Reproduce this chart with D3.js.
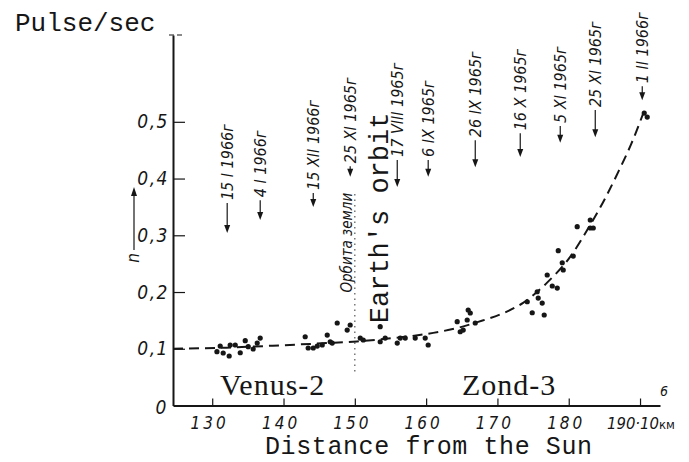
<!DOCTYPE html>
<html><head><meta charset="utf-8">
<script src="https://cdn.jsdelivr.net/npm/d3@7"></script>
<style>
body{margin:0;background:#fff;}
svg{display:block;}
</style></head><body>
<svg id="c" width="689" height="462"></svg>
<script>
// ---------- data ----------
const xTicks = [130, 140, 150, 160, 170, 180, 190];
const yTicks = [0.1, 0.2, 0.3, 0.4, 0.5];

const pointsX = [130.66,131.12,131.54,132.38,132.52,133.23,133.93,134.63,135.05,135.75,136.31,136.73,
  143.04,143.46,144.17,144.73,145.43,146.13,146.55,146.83,147.53,
  148.93,149.35,150.76,151.18,153.56,153.56,154.26,155.95,156.37,157.07,158.47,159.87,160.29,
  164.36,164.78,165.20,165.76,165.90,166.19,166.89,
  174.18,174.88,176.56,175.58,176.28,175.72,176.98,177.69,178.39,179.09,179.23,178.53,180.63,
  181.19,183.02,183.02,183.44,190.59,191.01];
const pointsY = [0.0948,0.1048,0.0925,0.0872,0.1066,0.1066,0.0930,0.1142,0.1036,0.0996,0.1101,0.1189,
  0.1212,0.1013,0.1013,0.1048,0.1066,0.1242,0.1124,0.1101,0.1454,
  0.1330,0.1419,0.1189,0.1154,0.1389,0.1124,0.1189,0.1101,0.1189,0.1189,0.1189,0.1189,0.1066,
  0.1477,0.1300,0.1330,0.1507,0.1683,0.1630,0.1454,
  0.1829,0.1635,0.1595,0.2005,0.1806,0.1894,0.2300,0.2106,0.2070,0.2516,0.2388,0.2728,0.2634,
  0.3151,0.3269,0.3128,0.3128,0.5154,0.5084];

const curveX = [124.5,132,139.5,146,150.3,155.5,161,164.5,167.2,171.4,173.6,177,180.2,183,185.1,187,188.8,190.6];
const curveY = [0.100,0.102,0.106,0.110,0.113,0.119,0.128,0.137,0.147,0.166,0.181,0.217,0.262,0.318,0.365,0.413,0.462,0.52];

const annotLabels = ["15 I 1966г","4 I 1966г","15 XII 1966г","25 XI 1965г","17 VIII 1965г","6 IX 1965г",
  "26 IX 1965г","16 X 1965г","5 XI 1965г","25 XI 1965г","1 II 1966г"];
const annotX    = [132.10,136.73,144.17,149.35,155.95,160.29,166.89,173.20,178.81,183.72,190.31];
const annotTip  = [0.304,0.327,0.350,0.403,0.385,0.403,0.420,0.438,0.463,0.473,0.538];
const annotBase = [0.362,0.367,0.380,0.427,0.438,0.438,0.473,0.485,0.498,0.526,0.568];

const orbitX = 150;
const orbitRange = [0.06, 0.38];

// ---------- drawing ----------
const svg = d3.select("#c");
const ink = "#161616";
const narrow = "'Liberation Sans Narrow','DejaVu Sans Condensed','Liberation Sans',sans-serif";
const mono = "'Liberation Mono','DejaVu Sans Mono',monospace";
const serif = "'Liberation Serif','DejaVu Serif',serif";

const x = d3.scaleLinear().domain([124.5, 192.8]).range([173, 660]);
const y = d3.scaleLinear().domain([0, 0.653]).range([405.5, 35]);

// axes
const lastVal = xTicks[xTicks.length - 1];
const xAxis = d3.axisBottom(x).tickValues(xTicks).tickSizeInner(-7).tickSizeOuter(0).tickPadding(11)
  .tickFormat(d => d === lastVal ? "" : d);
const gx = svg.append("g").attr("transform", `translate(0,${y(0)})`).call(xAxis);
gx.select(".domain").attr("stroke", ink).attr("stroke-width", 2);
gx.selectAll(".tick line").attr("stroke", ink).attr("stroke-width", 1.2);
gx.selectAll(".tick text").attr("fill", ink).attr("font-family", narrow).attr("font-style", "italic")
  .attr("font-size", 17).attr("letter-spacing", 3).attr("dx", -3);

// last tick label carries the unit: 190·10⁶ км
const lastX = x(lastVal) - 33;
const lastY = y(0) + 23;
const lastLab = svg.append("text").attr("x", lastX).attr("y", lastY).attr("text-anchor", "start")
  .attr("font-family", narrow).attr("font-style", "italic").attr("font-size", 16.5).attr("fill", ink)
  .text(lastVal + "·10");
const lastEnd = lastX + lastLab.node().getBBox().width;
svg.append("text").attr("x", lastEnd + 1).attr("y", y(0) - 10)
  .attr("font-family", narrow).attr("font-style", "italic").attr("font-size", 14).attr("fill", ink).text("6");
svg.append("text").attr("x", lastEnd).attr("y", lastY)
  .attr("font-family", narrow).attr("font-size", 13).attr("fill", ink).text("км");

const yAxis = d3.axisLeft(y).tickValues(yTicks).tickSizeInner(-12).tickSizeOuter(0).tickPadding(4)
  .tickFormat(d => d3.format(".1f")(d).replace(".", ","));
const gy = svg.append("g").attr("transform", `translate(${x(124.5)},0)`).call(yAxis);
gy.select(".domain").attr("stroke", ink).attr("stroke-width", 2);
gy.selectAll(".tick line").attr("stroke", ink).attr("stroke-width", 1.2);
gy.selectAll(".tick text").attr("fill", ink).attr("font-family", narrow).attr("font-style", "italic")
  .attr("font-size", 19).attr("letter-spacing", 1.5);

// top dash of y axis
svg.append("line").attr("x1", x(124.5) - 4).attr("x2", x(124.5) + 12)
  .attr("y1", y(0.653)).attr("y2", y(0.653)).attr("stroke", ink).attr("stroke-width", 1.2)
  .attr("stroke-dasharray", "5,3");

// "0" label
svg.append("text").attr("x", x(124.5) - 12).attr("y", y(0) + 8).attr("text-anchor", "middle")
  .attr("font-family", narrow).attr("font-style", "italic").attr("font-size", 19).attr("fill", ink).text("0");

// Earth's orbit dotted line
svg.append("line").attr("x1", x(orbitX)).attr("x2", x(orbitX))
  .attr("y1", y(orbitRange[0])).attr("y2", y(orbitRange[1]))
  .attr("stroke", "#555").attr("stroke-width", 1.2).attr("stroke-dasharray", "1.5,4");

// fitted dashed curve
const line = d3.line().x((d, i) => x(curveX[i])).y((d, i) => y(curveY[i])).curve(d3.curveMonotoneX);
svg.append("path").datum(curveX).attr("d", line).attr("fill", "none").attr("stroke", ink)
  .attr("stroke-width", 2).attr("stroke-dasharray", "10,6");

// points
svg.append("g").selectAll("circle").data(pointsX).join("circle")
  .attr("cx", (d) => x(d)).attr("cy", (d, i) => y(pointsY[i])).attr("r", 2.6).attr("fill", ink);

// annotations (date arrows)
const ann = svg.append("g");
annotLabels.forEach((lab, i) => {
  const ax = x(annotX[i]);
  const yb = y(annotBase[i]);
  const yt = y(annotTip[i]);
  ann.append("text").attr("transform", `translate(${ax},${yb}) rotate(-90)`).attr("dy", "0.36em")
    .attr("font-family", narrow).attr("font-style", "italic").attr("font-size", 16).attr("fill", ink).text(lab);
  ann.append("line").attr("x1", ax).attr("x2", ax).attr("y1", yb + 3).attr("y2", yt - 6)
    .attr("stroke", ink).attr("stroke-width", 1.2);
  ann.append("path").attr("d", `M${ax - 3},${yt - 8}L${ax + 3},${yt - 8}L${ax},${yt}Z`).attr("fill", ink);
});

// Russian orbit label
svg.append("text").attr("transform", `translate(${x(orbitX) - 8},${y(0.199)}) rotate(-90)`).attr("dy", "0.36em")
  .attr("font-family", narrow).attr("font-style", "italic").attr("font-size", 15).attr("fill", ink).text("Орбита земли");

// Earth's orbit (English)
svg.append("text").attr("transform", `translate(388,${y(0.145)}) rotate(-90)`)
  .attr("font-family", mono).attr("font-size", 27).attr("fill", ink).text("Earth's orbit");

// spacecraft labels
svg.append("text").attr("x", 220).attr("y", 395).attr("font-family", serif).attr("font-size", 30)
  .attr("letter-spacing", 1).attr("fill", ink).text("Venus-2");
svg.append("text").attr("x", 462).attr("y", 395).attr("font-family", serif).attr("font-size", 30)
  .attr("letter-spacing", 1).attr("fill", ink).text("Zond-3");

// n arrow on y side
svg.append("line").attr("x1", 134).attr("x2", 134).attr("y1", 250).attr("y2", 194)
  .attr("stroke", ink).attr("stroke-width", 1.2);
svg.append("path").attr("d", "M131,196L137,196L134,187Z").attr("fill", ink);
svg.append("text").attr("transform", "translate(134,258) rotate(-90)").attr("dy", "0.3em")
  .attr("text-anchor", "middle").attr("font-family", narrow).attr("font-style", "italic")
  .attr("font-size", 17).attr("fill", ink).text("n");

// titles
svg.append("text").attr("x", 15).attr("y", 31).attr("font-family", mono).attr("font-size", 26)
  .attr("fill", ink).text("Pulse/sec");
svg.append("text").attr("x", 265).attr("y", 454).attr("font-family", mono).attr("font-size", 25)
  .attr("letter-spacing", 0.6).attr("fill", ink).text("Distance from the Sun");
</script>
</body></html>
